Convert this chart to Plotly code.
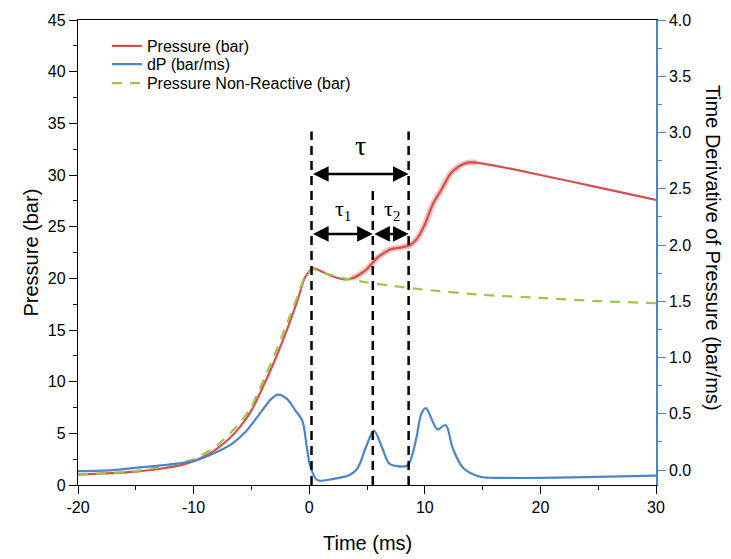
import plotly.graph_objects as go

# ---------------- data ----------------
time_p = [-20, -17, -15, -13, -11, -10, -9, -8, -7, -6, -5, -4, -3, -2, -1, -0.4, 0.3,
          1, 2, 3, 3.7, 4.4, 5.0, 5.9, 7.0, 8.0, 8.7, 9.3, 10, 10.7, 11.5, 12.2, 12.9, 13.7, 14.5,
          17, 20, 25, 30]
pressure = [1.0, 1.15, 1.3, 1.55, 1.95, 2.3, 2.8, 3.5, 4.4, 5.6, 7.2, 9.5, 12.0, 14.8, 17.9, 20.0, 21.0,
            20.7, 20.2, 19.9, 20.0, 20.4, 20.9, 22.0, 22.8, 23.0, 23.2, 23.8, 25.2, 27.2, 28.7, 30.1, 30.8, 31.2, 31.2,
            30.7, 30.0, 28.8, 27.6]

time_nr = [-20, -15, -10, -8, -6, -5, -4, -3, -2, -1, -0.4, 0.3, 1, 2, 3, 5, 7, 10, 15, 20, 25, 30]
pressure_nr = [1.0, 1.35, 2.5, 3.8, 6.0, 7.6, 10.0, 12.6, 15.4, 18.3, 20.1, 20.9, 20.6, 20.3, 20.0,
               19.6, 19.3, 18.9, 18.4, 18.1, 17.8, 17.6]

time_dp = [-20, -17, -15, -12, -10, -8, -6.6, -5.5, -4.5, -3.7, -3.3, -2.7, -1.9, -1.2, -0.6, -0.2, 0.1,
           0.7, 2.0, 3.5, 4.2, 4.9, 5.6, 6.3, 6.9, 7.3, 8.5, 8.9, 9.3, 9.7, 10.1, 10.6, 11.1,
           11.8, 12.4, 13.3, 14.8, 17, 20, 25, 30]
dpdt = [-0.01, 0.0, 0.02, 0.05, 0.08, 0.16, 0.24, 0.34, 0.47, 0.58, 0.63, 0.67, 0.63, 0.53, 0.44, 0.20, 0.03,
        -0.09, -0.08, -0.045, 0.02, 0.20, 0.35, 0.20, 0.06, 0.04, 0.04, 0.13, 0.30, 0.50, 0.55, 0.45, 0.36,
        0.40, 0.20, 0.02, -0.06, -0.07, -0.07, -0.06, -0.05]

tau_times = [0.2, 5.5, 8.6]
tau_tops = [34.2, 28.9, 34.2]
tau_arrow_level = 30.1
tau_sub_arrow_level = 24.3

x_ticks = [-20, -10, 0, 10, 20, 30]
x_tick_labels = ["-20", "-10", "0", "10", "20", "30"]
y_ticks = [0, 5, 10, 15, 20, 25, 30, 35, 40, 45]
y2_ticks = [0.0, 0.5, 1.0, 1.5, 2.0, 2.5, 3.0, 3.5, 4.0]
y2_tick_labels = ["0.0", "0.5", "1.0", "1.5", "2.0", "2.5", "3.0", "3.5", "4.0"]

# ---------------- styles ----------------
RED = "#d4504b"
BLUE = "#4a86c6"
GREEN = "#9cc54d"
SANS = "Liberation Sans, Arial, sans-serif"
SERIF = "Liberation Serif, Times New Roman, serif"

fig = go.Figure()

band_t = [t for t in time_p if 3.5 <= t <= 14.5]
band_p = [p for t, p in zip(time_p, pressure) if 3.5 <= t <= 14.5]
fig.add_trace(go.Scatter(x=band_t, y=band_p, mode="lines", showlegend=False, hoverinfo="skip",
                         line=dict(color="rgba(212,80,75,0.35)", width=6, shape="spline", smoothing=0.6)))
fig.add_trace(go.Scatter(x=time_p, y=pressure, mode="lines", name="Pressure (bar)", legend="legend",
                         line=dict(color=RED, width=2.2, shape="spline", smoothing=0.6)))
fig.add_trace(go.Scatter(x=time_dp, y=dpdt, mode="lines", name="dP (bar/ms)", yaxis="y2", legend="legend2",
                         line=dict(color=BLUE, width=2.2, shape="spline", smoothing=0.9)))
fig.add_trace(go.Scatter(x=time_nr, y=pressure_nr, mode="lines", name="Pressure Non-Reactive (bar)",
                         legend="legend3",
                         line=dict(color=GREEN, width=2.2, dash="10px,8px", shape="spline", smoothing=0.6)))

for t, top in zip(tau_times, tau_tops):
    fig.add_shape(type="line", xref="x", yref="y", x0=t, x1=t, y0=0, y1=top,
                  line=dict(color="black", width=2.5, dash="9px,6px"), layer="above")

arrow_common = dict(xref="x", yref="y", axref="x", ayref="y", text="", showarrow=True,
                    arrowhead=2, arrowside="end+start", arrowsize=1.25, arrowwidth=2.5,
                    arrowcolor="black", standoff=0, startstandoff=0)
fig.add_annotation(x=tau_times[2], y=tau_arrow_level, ax=tau_times[0], ay=tau_arrow_level, **arrow_common)
fig.add_annotation(x=tau_times[1], y=tau_sub_arrow_level, ax=tau_times[0], ay=tau_sub_arrow_level, **arrow_common)
fig.add_annotation(x=tau_times[2], y=tau_sub_arrow_level, ax=tau_times[1], ay=tau_sub_arrow_level, **arrow_common)

fig.add_annotation(x=4.4, y=32.9, xref="x", yref="y", text="τ", showarrow=False,
                   font=dict(family=SERIF, size=28, color="black"))
fig.add_annotation(x=3.0, y=26.6, xref="x", yref="y", text="τ<sub>1</sub>", showarrow=False,
                   font=dict(family=SERIF, size=22, color="black"))
fig.add_annotation(x=7.2, y=26.6, xref="x", yref="y", text="τ<sub>2</sub>", showarrow=False,
                   font=dict(family=SERIF, size=22, color="black"))

# axis titles
fig.add_annotation(x=-0.083, y=0.50, xref="paper", yref="paper", text="Pressure (bar)", textangle=-90,
                   xanchor="center", yanchor="middle",
                   showarrow=False, font=dict(family=SANS, size=20, color="black"))
fig.add_annotation(x=1.099, y=0.51, xref="paper", yref="paper", text="Time Derivative of Pressure (bar/ms)",
                   xanchor="center", yanchor="middle",
                   textangle=90, showarrow=False, font=dict(family=SANS, size=20, color="black"))
fig.add_annotation(x=0.50, y=-0.124, xref="paper", yref="paper", text="Time (ms)",
                   xanchor="center", yanchor="middle",
                   showarrow=False, font=dict(family=SANS, size=20, color="black"))

legend_common = dict(x=0.05, xanchor="left", yanchor="middle", bgcolor="rgba(0,0,0,0)",
                     font=dict(family=SANS, size=16, color="black"), borderwidth=0)

fig.update_layout(
    width=731, height=559, autosize=False,
    margin=dict(l=78, r=75, t=18, b=74),
    plot_bgcolor="white", paper_bgcolor="white",
    font=dict(family=SANS, size=16, color="black"),
    showlegend=True,
    legend=dict(y=0.944, **legend_common),
    legend2=dict(y=0.905, **legend_common),
    legend3=dict(y=0.864, **legend_common),
    xaxis=dict(range=[-20, 30], tickvals=x_ticks, ticktext=x_tick_labels, showgrid=False, zeroline=False,
               showline=True, linecolor="black", linewidth=1.3, mirror=True,
               ticks="outside", ticklen=8, tickwidth=1.3, tickcolor="black",
               minor=dict(ticks="outside", dtick=5, tick0=-20, ticklen=4, tickwidth=1.3, tickcolor="black"),
               tickfont=dict(size=16)),
    yaxis=dict(range=[0, 45], tickvals=y_ticks, showgrid=False, zeroline=False,
               showline=True, linecolor="black", linewidth=1.3,
               ticks="outside", ticklen=8, tickwidth=1.3, tickcolor="black",
               minor=dict(ticks="outside", dtick=2.5, tick0=0, ticklen=4, tickwidth=1.3, tickcolor="black"),
               tickfont=dict(size=16)),
    yaxis2=dict(range=[-0.133, 4.0], overlaying="y", side="right", tickvals=y2_ticks, ticktext=y2_tick_labels,
                showgrid=False, zeroline=False, showline=True, linecolor=BLUE, linewidth=1.5,
                ticks="outside", ticklen=8, tickwidth=1.3, tickcolor=BLUE,
                minor=dict(ticks="outside", dtick=0.25, tick0=0, ticklen=4, tickwidth=1.3, tickcolor=BLUE),
                tickfont=dict(size=16, color="black")),
)

fig.write_html("out.html", config={"displayModeBar": False},
               post_script="document.body.style.margin='0';document.body.style.overflow='hidden';")
